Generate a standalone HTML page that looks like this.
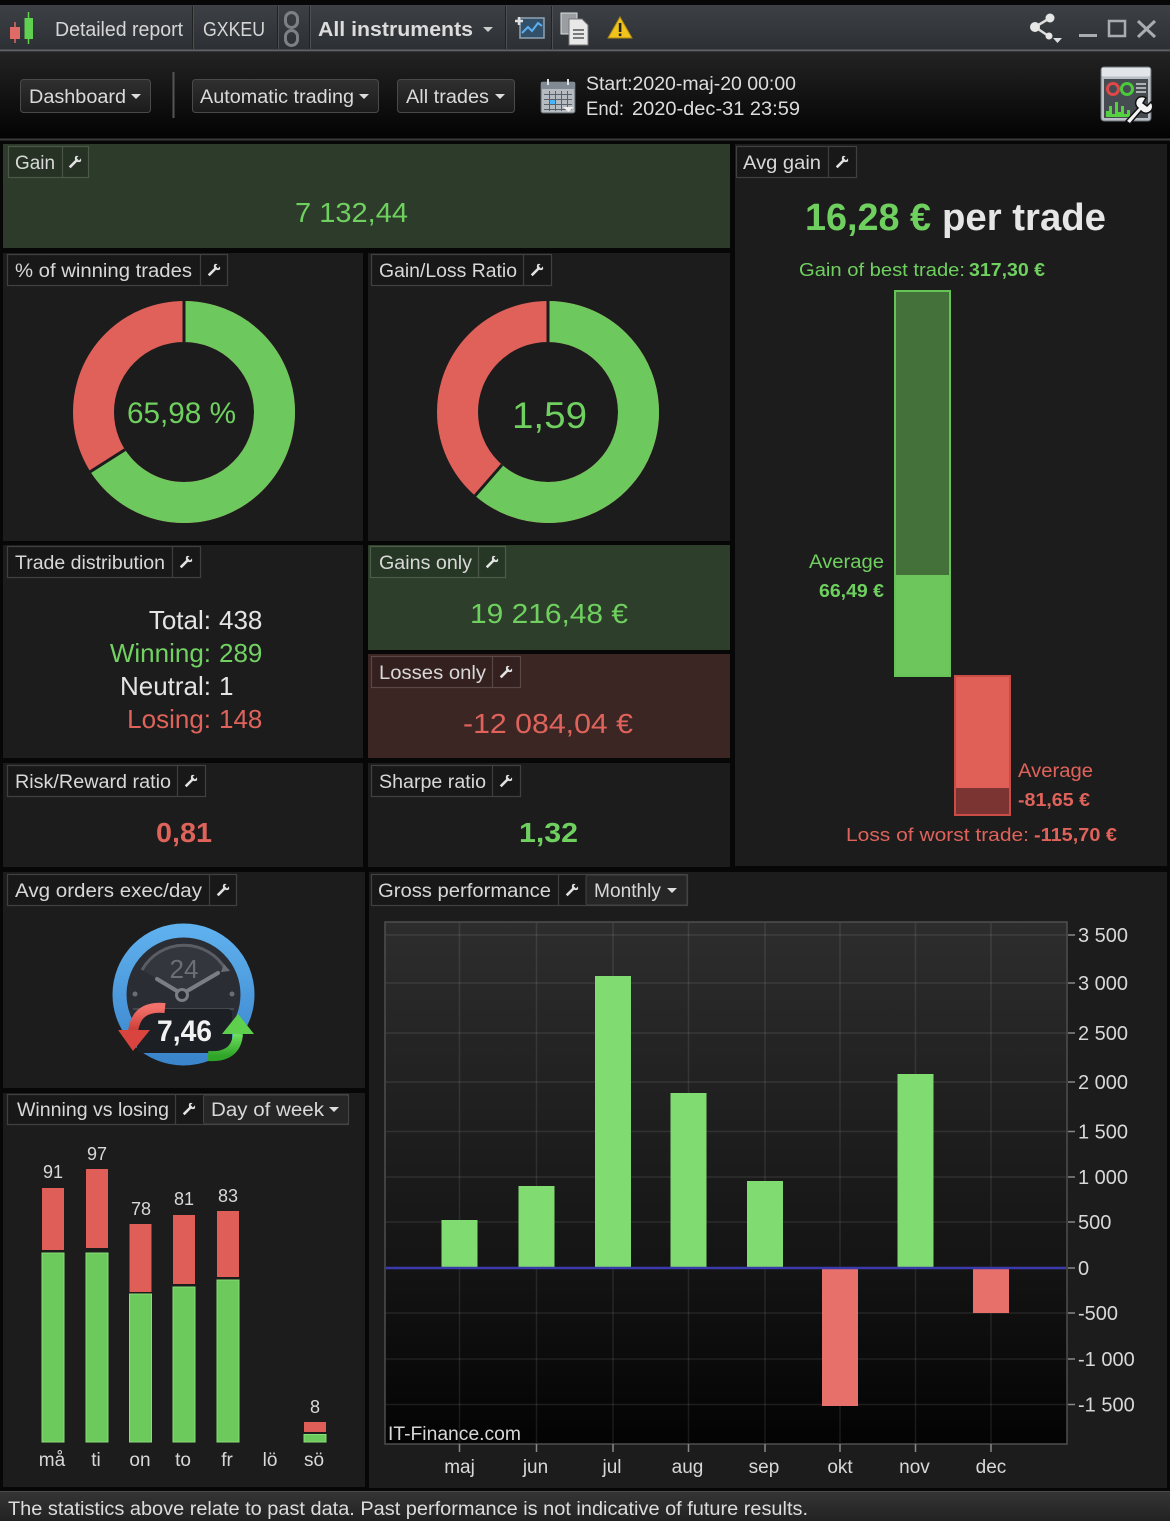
<!DOCTYPE html>
<html><head><meta charset="utf-8">
<style>
html,body{margin:0;padding:0;background:#000;}
svg{display:block;}
text{font-family:"Liberation Sans",Arial,sans-serif;}
</style></head><body>
<svg xmlns="http://www.w3.org/2000/svg" xmlns:xlink="http://www.w3.org/1999/xlink" width="1170" height="1521" viewBox="0 0 1170 1521">
<defs>
<linearGradient id="gTitle" x1="0" y1="0" x2="0" y2="1"><stop offset="0" stop-color="#3d4146"/><stop offset="1" stop-color="#2c2f33"/></linearGradient>
<linearGradient id="gTool" x1="0" y1="0" x2="0" y2="1"><stop offset="0" stop-color="#232323"/><stop offset="1" stop-color="#030303"/></linearGradient>
<linearGradient id="gBtn" x1="0" y1="0" x2="0" y2="1"><stop offset="0" stop-color="#303030"/><stop offset="1" stop-color="#1b1b1b"/></linearGradient>
<linearGradient id="gPlot" x1="0" y1="0" x2="0" y2="1"><stop offset="0" stop-color="#2d2d2d"/><stop offset="0.66" stop-color="#141414"/><stop offset="1" stop-color="#030303"/></linearGradient>
<linearGradient id="gFoot" x1="0" y1="0" x2="0" y2="1"><stop offset="0" stop-color="#353535"/><stop offset="1" stop-color="#222"/></linearGradient>
<linearGradient id="gRing" x1="0" y1="0" x2="0" y2="1"><stop offset="0" stop-color="#5fb0ee"/><stop offset="1" stop-color="#3a85cc"/></linearGradient>
<linearGradient id="gRed" x1="0" y1="0" x2="0" y2="1"><stop offset="0" stop-color="#f2716a"/><stop offset="1" stop-color="#c93a34"/></linearGradient>
<linearGradient id="gGreen" x1="0" y1="1" x2="0" y2="0"><stop offset="0" stop-color="#2fa428"/><stop offset="1" stop-color="#6fe05e"/></linearGradient>
<symbol id="wr" viewBox="-8 -8 16 16" width="16" height="16">
<path transform="rotate(45)" d="M-1.3 7.5 L-1.3 -1.6 A3.7 3.7 0 0 1 -3.7 -5 L-1.7 -6.8 L-1.7 -3.9 L1.7 -3.9 L1.7 -6.8 L3.7 -5 A3.7 3.7 0 0 1 1.3 -1.6 L1.3 7.5 Z" fill="#e2e2e2"/>
</symbol>
</defs>

<!-- background -->
<rect x="0" y="0" width="1170" height="1521" fill="#070707"/>

<!-- ===== Title bar ===== -->
<rect x="0" y="5" width="1170" height="45" fill="url(#gTitle)"/>
<line x1="0" y1="50.5" x2="1170" y2="50.5" stroke="#5f6368" stroke-width="2"/>
<!-- candle icon -->
<line x1="15" y1="22" x2="15" y2="43" stroke="#e06a66" stroke-width="1.5"/>
<rect x="10" y="27" width="10" height="12" fill="#e06a66"/>
<line x1="28.5" y1="12" x2="28.5" y2="44" stroke="#5fd050" stroke-width="1.5"/>
<rect x="24.5" y="18" width="8.5" height="21" fill="#5fd050"/>
<text x="55" y="36" font-size="20" fill="#d6d6d6" textLength="128" lengthAdjust="spacingAndGlyphs">Detailed report</text>
<g stroke-width="1">
<line x1="192.5" y1="6" x2="192.5" y2="49" stroke="#222"/><line x1="193.5" y1="6" x2="193.5" y2="49" stroke="#4c5055"/>
<line x1="277.5" y1="6" x2="277.5" y2="49" stroke="#222"/><line x1="278.5" y1="6" x2="278.5" y2="49" stroke="#4c5055"/>
<line x1="309.5" y1="6" x2="309.5" y2="49" stroke="#222"/><line x1="310.5" y1="6" x2="310.5" y2="49" stroke="#4c5055"/>
<line x1="505.5" y1="6" x2="505.5" y2="49" stroke="#222"/><line x1="506.5" y1="6" x2="506.5" y2="49" stroke="#4c5055"/>
<line x1="551.5" y1="6" x2="551.5" y2="49" stroke="#222"/><line x1="552.5" y1="6" x2="552.5" y2="49" stroke="#4c5055"/>
</g>
<text x="203" y="36" font-size="20" fill="#d6d6d6" textLength="62" lengthAdjust="spacingAndGlyphs">GXKEU</text>
<!-- chain -->
<rect x="285.5" y="12.5" width="12" height="15" rx="6" fill="none" stroke="#7d8085" stroke-width="3"/>
<rect x="285.5" y="30.5" width="12" height="15" rx="6" fill="none" stroke="#7d8085" stroke-width="3"/>
<text x="318" y="36" font-size="20" font-weight="bold" fill="#dcdcdc" textLength="155" lengthAdjust="spacingAndGlyphs">All instruments</text>
<path d="M483 27 L493 27 L488 32 Z" fill="#ccc"/>
<!-- chart icon -->
<rect x="520" y="18" width="24" height="20" fill="#33506a" stroke="#8fa3b3" stroke-width="1.5"/>
<polyline points="522,33 528,27 532,31 538,23 542,26" fill="none" stroke="#5ab0f0" stroke-width="2"/>
<path d="M515 21 h8 M519 17 v8" stroke="#e0e0e0" stroke-width="2.5"/>
<!-- doc icon -->
<rect x="561" y="13" width="16" height="21" fill="#9a9ea3" stroke="#ddd" stroke-width="1"/>
<path d="M569 19 h13 l6 6 v20 h-19 Z" fill="#e8e8e8" stroke="#777" stroke-width="1"/>
<path d="M573 30 h11 M573 34 h11 M573 38 h11" stroke="#555" stroke-width="1.5"/>
<!-- warning -->
<path d="M620 17 L632 38 L608 38 Z" fill="#f0c41c" stroke="#b08a10" stroke-width="1"/>
<rect x="618.8" y="23" width="2.6" height="9" fill="#222"/><rect x="618.8" y="33.5" width="2.6" height="2.6" fill="#222"/>
<!-- share -->
<line x1="1035" y1="27" x2="1050" y2="18" stroke="#ddd" stroke-width="2.5"/>
<line x1="1035" y1="27" x2="1050" y2="37" stroke="#ddd" stroke-width="2.5"/>
<circle cx="1035" cy="27" r="5" fill="#e6e6e6"/>
<circle cx="1050" cy="18" r="4.5" fill="#e6e6e6"/>
<circle cx="1049" cy="36" r="3.5" fill="#e6e6e6"/>
<path d="M1053 38 h9 l-4.5 5 Z" fill="#ddd"/>
<!-- window controls -->
<line x1="1079" y1="35.5" x2="1097" y2="35.5" stroke="#a9acb0" stroke-width="3"/>
<rect x="1109" y="21" width="16" height="15" fill="none" stroke="#a9acb0" stroke-width="2.5"/>
<path d="M1138 21 L1155 37 M1155 21 L1138 37" stroke="#a9acb0" stroke-width="3"/>

<!-- ===== Toolbar ===== -->
<rect x="0" y="52" width="1170" height="86" fill="url(#gTool)"/>
<line x1="0" y1="139.5" x2="1170" y2="139.5" stroke="#3a3a3a" stroke-width="2"/>
<rect x="20.5" y="79.5" width="130" height="33" rx="3" fill="url(#gBtn)" stroke="#4a4a4a"/>
<text x="29" y="103" font-size="19" fill="#dadada" textLength="97" lengthAdjust="spacingAndGlyphs">Dashboard</text>
<path d="M131 94 L141 94 L136 99 Z" fill="#ddd"/>
<line x1="173.5" y1="72" x2="173.5" y2="118" stroke="#555" stroke-width="2"/>
<rect x="192.5" y="79.5" width="186" height="33" rx="3" fill="url(#gBtn)" stroke="#4a4a4a"/>
<text x="200" y="103" font-size="19" fill="#dadada" textLength="154" lengthAdjust="spacingAndGlyphs">Automatic trading</text>
<path d="M359 94 L369 94 L364 99 Z" fill="#ddd"/>
<rect x="397.5" y="79.5" width="117" height="33" rx="3" fill="url(#gBtn)" stroke="#4a4a4a"/>
<text x="406" y="103" font-size="19" fill="#dadada" textLength="83" lengthAdjust="spacingAndGlyphs">All trades</text>
<path d="M495 94 L505 94 L500 99 Z" fill="#ddd"/>
<!-- calendar -->
<rect x="541" y="82" width="34" height="31" rx="2" fill="#b5bbc1" stroke="#5a6066"/>
<rect x="541" y="82" width="34" height="7" fill="#7f8a94"/>
<path d="M548 79 v6 M568 79 v6" stroke="#ddd" stroke-width="2"/>
<g stroke="#59616a" stroke-width="1"><path d="M544 94.5 h28 M544 99.5 h28 M544 104.5 h28 M544 109.5 h28 M549.5 91 v20 M555.5 91 v20 M561.5 91 v20 M567.5 91 v20"/></g>
<rect x="550" y="100" width="5" height="4" fill="#47b6ff"/>
<path d="M563 107 h11 l-5.5 5 Z" fill="#eee"/>
<text x="586" y="90" font-size="19" fill="#dcdcdc" textLength="210" lengthAdjust="spacingAndGlyphs">Start:2020-maj-20 00:00</text>
<text x="586" y="115" font-size="19" fill="#dcdcdc" textLength="38" lengthAdjust="spacingAndGlyphs">End:</text>
<text x="632" y="115" font-size="19" fill="#dcdcdc" textLength="168" lengthAdjust="spacingAndGlyphs">2020-dec-31 23:59</text>
<!-- dashboard settings icon -->
<rect x="1101" y="67" width="50" height="54" rx="3" fill="#b9bfc4" stroke="#6a7075"/>
<rect x="1101.5" y="67.5" width="49" height="9" rx="2" fill="#e2e6e9"/>
<rect x="1104" y="79" width="44" height="39" fill="#454b50"/>
<circle cx="1113" cy="89" r="5.5" fill="none" stroke="#e04848" stroke-width="3"/>
<circle cx="1127" cy="89" r="5.5" fill="none" stroke="#4cc83c" stroke-width="3"/>
<path d="M1136 84 h10 M1136 88 h10 M1136 92 h10" stroke="#cfd3d6" stroke-width="1.5"/>
<path d="M1106 117 v-6 h3 v-5 h3 v8 h3 v-12 h3 v10 h3 v-6 h3 v8 h3 v-4 h3 v7 Z" fill="#55d040"/>
<path d="M1126 121 L1138 108 A6 6 0 0 1 1146 98 L1143 103 L1147 106 L1151 102 A6 6 0 0 1 1141 111 L1130 124 Z" fill="#f4f4f4" stroke="#111" stroke-width="1.5"/>

<!-- ===== Panels ===== -->
<rect x="3" y="144" width="727" height="104" fill="#2c3b2a"/>
<rect x="735" y="144" width="432" height="722" fill="#1c1c1c"/>
<rect x="3" y="253" width="360" height="288" fill="#1c1c1c"/>
<rect x="368" y="253" width="362" height="288" fill="#1c1c1c"/>
<rect x="3" y="545" width="360" height="213" fill="#1c1c1c"/>
<rect x="368" y="545" width="362" height="105" fill="#2d3f2b"/>
<rect x="368" y="654" width="362" height="104" fill="#3c2624"/>
<rect x="3" y="763" width="360" height="104" fill="#1c1c1c"/>
<rect x="368" y="763" width="362" height="104" fill="#1c1c1c"/>
<rect x="3" y="872" width="362" height="216" fill="#1c1c1c"/>
<rect x="3" y="1093" width="362" height="394" fill="#1c1c1c"/>
<rect x="369" y="872" width="798" height="616" fill="#1c1c1c"/>

<!-- ===== Tags ===== -->
<g fill="rgba(0,0,0,0.12)" stroke="rgba(255,255,255,0.17)" stroke-width="1.2">
<rect x="8.5" y="146.5" width="80" height="31"/><line x1="62.5" y1="147" x2="62.5" y2="177"/>
<rect x="736.5" y="146.5" width="120" height="31"/><line x1="828.5" y1="147" x2="828.5" y2="177"/>
<rect x="7.5" y="254.5" width="220" height="31"/><line x1="200.5" y1="255" x2="200.5" y2="285"/>
<rect x="371.5" y="254.5" width="180" height="31"/><line x1="523.5" y1="255" x2="523.5" y2="285"/>
<rect x="7.5" y="546.5" width="193" height="31"/><line x1="172.5" y1="547" x2="172.5" y2="577"/>
<rect x="370.5" y="546.5" width="135" height="31"/><line x1="478.5" y1="547" x2="478.5" y2="577"/>
<rect x="371.5" y="656.5" width="149" height="31"/><line x1="492.5" y1="657" x2="492.5" y2="687"/>
<rect x="7.5" y="765.5" width="198" height="31"/><line x1="177.5" y1="766" x2="177.5" y2="796"/>
<rect x="371.5" y="765.5" width="149" height="31"/><line x1="492.5" y1="766" x2="492.5" y2="796"/>
<rect x="7.5" y="874.5" width="229" height="31"/><line x1="209.5" y1="875" x2="209.5" y2="905"/>
<rect x="7.5" y="1094.5" width="341" height="30"/><line x1="175.5" y1="1095" x2="175.5" y2="1124"/>
<rect x="371.5" y="874.5" width="316" height="31"/><line x1="558.5" y1="875" x2="558.5" y2="905"/>
</g>
<rect x="203.5" y="1095" width="145" height="29" rx="2" fill="#262626" stroke="#444"/>
<rect x="586" y="875" width="101" height="30" rx="2" fill="#262626" stroke="#444"/>
<g font-size="19" fill="#d8d8d8">
<text x="15" y="169" textLength="40" lengthAdjust="spacingAndGlyphs">Gain</text>
<text x="743" y="169" textLength="78" lengthAdjust="spacingAndGlyphs">Avg gain</text>
<text x="15" y="277" textLength="177" lengthAdjust="spacingAndGlyphs">% of winning trades</text>
<text x="379" y="277" textLength="138" lengthAdjust="spacingAndGlyphs">Gain/Loss Ratio</text>
<text x="15" y="569" textLength="150" lengthAdjust="spacingAndGlyphs">Trade distribution</text>
<text x="379" y="569" textLength="93" lengthAdjust="spacingAndGlyphs">Gains only</text>
<text x="379" y="679" textLength="107" lengthAdjust="spacingAndGlyphs">Losses only</text>
<text x="15" y="788" textLength="156" lengthAdjust="spacingAndGlyphs">Risk/Reward ratio</text>
<text x="379" y="788" textLength="107" lengthAdjust="spacingAndGlyphs">Sharpe ratio</text>
<text x="15" y="897" textLength="187" lengthAdjust="spacingAndGlyphs">Avg orders exec/day</text>
<text x="17" y="1116" textLength="152" lengthAdjust="spacingAndGlyphs">Winning vs losing</text>
<text x="211" y="1116" textLength="113" lengthAdjust="spacingAndGlyphs">Day of week</text>
<text x="378" y="897" textLength="173" lengthAdjust="spacingAndGlyphs">Gross performance</text>
<text x="594" y="897" textLength="67" lengthAdjust="spacingAndGlyphs">Monthly</text>
</g>
<path d="M329 1107 L339 1107 L334 1112 Z" fill="#ddd"/>
<path d="M667 888 L677 888 L672 893 Z" fill="#ddd"/>
<use xlink:href="#wr" x="67" y="154"/>
<use xlink:href="#wr" x="834" y="154"/>
<use xlink:href="#wr" x="206" y="262"/>
<use xlink:href="#wr" x="529" y="262"/>
<use xlink:href="#wr" x="178" y="554"/>
<use xlink:href="#wr" x="484" y="554"/>
<use xlink:href="#wr" x="498" y="664"/>
<use xlink:href="#wr" x="183" y="773"/>
<use xlink:href="#wr" x="498" y="773"/>
<use xlink:href="#wr" x="215" y="882"/>
<use xlink:href="#wr" x="181" y="1101"/>
<use xlink:href="#wr" x="564" y="882"/>

<!-- ===== Gain value ===== -->
<text x="295" y="222" font-size="28" fill="#6fd05f" textLength="113" lengthAdjust="spacingAndGlyphs">7 132,44</text>

<!-- ===== Donuts ===== -->
<circle cx="184" cy="412" r="90.5" fill="none" stroke="#e0605a" stroke-width="41"/>
<circle cx="184" cy="412" r="90.5" fill="none" stroke="#6dc85d" stroke-width="41" stroke-dasharray="375.2 1000" transform="rotate(-90 184 412)"/>
<line x1="184" y1="342" x2="184" y2="300" stroke="#1c1c1c" stroke-width="3"/>
<line x1="125" y1="449.6" x2="90" y2="471.9" stroke="#1c1c1c" stroke-width="3"/>
<text x="127" y="423" font-size="30" fill="#6fd05f" textLength="109" lengthAdjust="spacingAndGlyphs">65,98 %</text>

<circle cx="548" cy="412" r="90.5" fill="none" stroke="#e0605a" stroke-width="41"/>
<circle cx="548" cy="412" r="90.5" fill="none" stroke="#6dc85d" stroke-width="41" stroke-dasharray="349.1 1000" transform="rotate(-90 548 412)"/>
<line x1="548" y1="342" x2="548" y2="300" stroke="#1c1c1c" stroke-width="3"/>
<line x1="502" y1="464.8" x2="475" y2="495.8" stroke="#1c1c1c" stroke-width="3"/>
<text x="512" y="428" font-size="37" fill="#6fd05f" textLength="75" lengthAdjust="spacingAndGlyphs">1,59</text>

<!-- ===== Trade distribution ===== -->
<g font-size="26">
<text x="211" y="629" text-anchor="end" fill="#e4e4e4">Total:</text><text x="219" y="629" fill="#e4e4e4">438</text>
<text x="211" y="662" text-anchor="end" fill="#72d162">Winning:</text><text x="219" y="662" fill="#72d162">289</text>
<text x="211" y="695" text-anchor="end" fill="#e4e4e4">Neutral:</text><text x="219" y="695" fill="#e4e4e4">1</text>
<text x="211" y="728" text-anchor="end" fill="#e0635b">Losing:</text><text x="219" y="728" fill="#e0635b">148</text>
</g>

<!-- Gains / losses -->
<text x="470" y="623" font-size="28" fill="#6fd05f" textLength="158" lengthAdjust="spacingAndGlyphs">19 216,48 €</text>
<text x="463" y="733" font-size="28" fill="#e0635b" textLength="170" lengthAdjust="spacingAndGlyphs">-12 084,04 €</text>

<!-- Risk / Sharpe -->
<text x="156" y="842" font-size="28" font-weight="bold" fill="#e0635b" textLength="56" lengthAdjust="spacingAndGlyphs">0,81</text>
<text x="519" y="842" font-size="28" font-weight="bold" fill="#6fd05f" textLength="59" lengthAdjust="spacingAndGlyphs">1,32</text>

<!-- ===== Avg gain ===== -->
<text x="805" y="230" font-size="38" font-weight="bold" fill="#6fd05f" textLength="126" lengthAdjust="spacingAndGlyphs">16,28 €</text>
<text x="942" y="230" font-size="38" font-weight="bold" fill="#e6e6e6" textLength="164" lengthAdjust="spacingAndGlyphs">per trade</text>
<text x="799" y="276" font-size="18" fill="#6fd05f" textLength="166" lengthAdjust="spacingAndGlyphs">Gain of best trade:</text>
<text x="969" y="276" font-size="18" font-weight="bold" fill="#6fd05f" textLength="76" lengthAdjust="spacingAndGlyphs">317,30 €</text>
<rect x="895" y="291" width="55" height="385" fill="#44703a" stroke="#66c457" stroke-width="2"/>
<rect x="896" y="575" width="53" height="100" fill="#6cc65c"/>
<rect x="955" y="676" width="55" height="139" fill="#e05f57" stroke="#c94c46" stroke-width="2"/>
<rect x="956" y="788" width="53" height="26" fill="#7b3432"/>
<text x="884" y="568" font-size="19" text-anchor="end" fill="#6fd05f" textLength="75" lengthAdjust="spacingAndGlyphs">Average</text>
<text x="884" y="597" font-size="18" font-weight="bold" text-anchor="end" fill="#6fd05f" textLength="65" lengthAdjust="spacingAndGlyphs">66,49 €</text>
<text x="1018" y="777" font-size="19" fill="#e0635b" textLength="75" lengthAdjust="spacingAndGlyphs">Average</text>
<text x="1018" y="806" font-size="18" font-weight="bold" fill="#e0635b" textLength="72" lengthAdjust="spacingAndGlyphs">-81,65 €</text>
<text x="846" y="841" font-size="18" fill="#e0635b" textLength="183" lengthAdjust="spacingAndGlyphs">Loss of worst trade:</text>
<text x="1034" y="841" font-size="18" font-weight="bold" fill="#e0635b" textLength="83" lengthAdjust="spacingAndGlyphs">-115,70 €</text>

<!-- ===== Gauge ===== -->
<circle cx="183.5" cy="994.5" r="64" fill="#2a2e34" stroke="url(#gRing)" stroke-width="14"/>
<path d="M142 970 A48 48 0 0 1 226 970 L183 994 Z" fill="#33373d"/>
<path d="M142 970 A48 48 0 0 1 226 970" fill="none" stroke="#5a5e64" stroke-width="3"/>
<path d="M224 964 L230 971 L221 972 Z" fill="#6a6e74"/>
<text x="184" y="978" font-size="26" text-anchor="middle" fill="#6c7076">24</text>
<line x1="182" y1="994" x2="157" y2="979" stroke="#7a7e84" stroke-width="4" stroke-linecap="round"/>
<line x1="182" y1="994" x2="218" y2="973" stroke="#7a7e84" stroke-width="4" stroke-linecap="round"/>
<circle cx="182" cy="995" r="5.5" fill="#2a2e34" stroke="#7a7e84" stroke-width="3"/>
<circle cx="135" cy="994" r="2.5" fill="#6a6e74"/>
<circle cx="232" cy="994" r="2.5" fill="#6a6e74"/>
<line x1="133" y1="1009" x2="234" y2="1009" stroke="#4e5258" stroke-width="1.5"/>
<rect x="137" y="1009" width="95" height="44" rx="4" fill="#1c1f23"/>
<path d="M165 1008 Q136 1005 133 1032" fill="none" stroke="url(#gRed)" stroke-width="10"/>
<path d="M118 1030 L150 1030 L133 1051 Z" fill="#d9443e"/>
<path d="M208 1056 Q236 1058 238 1034" fill="none" stroke="url(#gGreen)" stroke-width="10"/>
<path d="M222 1034 L254 1034 L238 1014 Z" fill="#5fd04e"/>
<text x="157" y="1041" font-size="30" font-weight="bold" fill="#f2f2f2" textLength="55" lengthAdjust="spacingAndGlyphs">7,46</text>

<!-- ===== Winning vs losing ===== -->
<g stroke-width="1">
<rect x="42" y="1188" width="22" height="62" fill="#e05e58"/>
<rect x="42" y="1253" width="22" height="189" fill="#6cc95c" stroke="#88de78"/>
<rect x="86" y="1169" width="22" height="79" fill="#e05e58"/>
<rect x="86" y="1253" width="22" height="189" fill="#6cc95c" stroke="#88de78"/>
<rect x="129.5" y="1224" width="22" height="68" fill="#e05e58"/>
<rect x="129.5" y="1294" width="22" height="148" fill="#6cc95c" stroke="#88de78"/>
<rect x="173" y="1215" width="22" height="69" fill="#e05e58"/>
<rect x="173" y="1287" width="22" height="155" fill="#6cc95c" stroke="#88de78"/>
<rect x="217" y="1211" width="22" height="66" fill="#e05e58"/>
<rect x="217" y="1280" width="22" height="162" fill="#6cc95c" stroke="#88de78"/>
<rect x="304" y="1422" width="22" height="10" fill="#e05e58"/>
<rect x="304" y="1434.5" width="22" height="7.5" fill="#6cc95c" stroke="#88de78"/>
</g>
<g font-size="18" fill="#d8d8d8" text-anchor="middle">
<text x="53" y="1178">91</text>
<text x="97" y="1160">97</text>
<text x="141" y="1215">78</text>
<text x="184" y="1205">81</text>
<text x="228" y="1202">83</text>
<text x="315" y="1413">8</text>
</g>
<g font-size="19" fill="#d8d8d8" text-anchor="middle">
<text x="52" y="1466">må</text>
<text x="96" y="1466">ti</text>
<text x="140" y="1466">on</text>
<text x="183" y="1466">to</text>
<text x="227" y="1466">fr</text>
<text x="270" y="1466">lö</text>
<text x="314" y="1466">sö</text>
</g>

<!-- ===== Gross performance ===== -->
<rect x="385" y="922" width="682" height="522" fill="url(#gPlot)" stroke="#4e4e4e" stroke-width="1.5"/>
<g stroke="rgba(255,255,255,0.09)" stroke-width="1.5">
<line x1="386" y1="935" x2="1066" y2="935"/>
<line x1="386" y1="983" x2="1066" y2="983"/>
<line x1="386" y1="1033" x2="1066" y2="1033"/>
<line x1="386" y1="1082" x2="1066" y2="1082"/>
<line x1="386" y1="1131.5" x2="1066" y2="1131.5"/>
<line x1="386" y1="1177" x2="1066" y2="1177"/>
<line x1="386" y1="1222" x2="1066" y2="1222"/>
<line x1="386" y1="1313" x2="1066" y2="1313"/>
<line x1="386" y1="1359" x2="1066" y2="1359"/>
<line x1="386" y1="1404.5" x2="1066" y2="1404.5"/>
<line x1="459.5" y1="923" x2="459.5" y2="1443"/>
<line x1="536.5" y1="923" x2="536.5" y2="1443"/>
<line x1="613" y1="923" x2="613" y2="1443"/>
<line x1="688.5" y1="923" x2="688.5" y2="1443"/>
<line x1="765" y1="923" x2="765" y2="1443"/>
<line x1="840" y1="923" x2="840" y2="1443"/>
<line x1="915.5" y1="923" x2="915.5" y2="1443"/>
<line x1="991" y1="923" x2="991" y2="1443"/>
</g>
<g fill="#80db70">
<rect x="441.5" y="1220" width="36" height="48"/>
<rect x="518.5" y="1186" width="36" height="82"/>
<rect x="595" y="976" width="36" height="292"/>
<rect x="670.5" y="1093" width="36" height="175"/>
<rect x="747" y="1181" width="36" height="87"/>
<rect x="897.5" y="1074" width="36" height="194"/>
</g>
<g fill="#e8706a">
<rect x="822" y="1268" width="36" height="138"/>
<rect x="973" y="1268" width="36" height="45"/>
</g>
<line x1="386" y1="1268" x2="1066" y2="1268" stroke="#3a3aaa" stroke-width="2.5"/>
<g stroke="#888" stroke-width="1.5">
<line x1="1068" y1="935" x2="1075" y2="935"/>
<line x1="1068" y1="983" x2="1075" y2="983"/>
<line x1="1068" y1="1033" x2="1075" y2="1033"/>
<line x1="1068" y1="1082" x2="1075" y2="1082"/>
<line x1="1068" y1="1131.5" x2="1075" y2="1131.5"/>
<line x1="1068" y1="1177" x2="1075" y2="1177"/>
<line x1="1068" y1="1222" x2="1075" y2="1222"/>
<line x1="1068" y1="1268" x2="1075" y2="1268"/>
<line x1="1068" y1="1313" x2="1075" y2="1313"/>
<line x1="1068" y1="1359" x2="1075" y2="1359"/>
<line x1="1068" y1="1404.5" x2="1075" y2="1404.5"/>
<line x1="459.5" y1="1444" x2="459.5" y2="1452"/>
<line x1="536.5" y1="1444" x2="536.5" y2="1452"/>
<line x1="613" y1="1444" x2="613" y2="1452"/>
<line x1="688.5" y1="1444" x2="688.5" y2="1452"/>
<line x1="765" y1="1444" x2="765" y2="1452"/>
<line x1="840" y1="1444" x2="840" y2="1452"/>
<line x1="915.5" y1="1444" x2="915.5" y2="1452"/>
<line x1="991" y1="1444" x2="991" y2="1452"/>
</g>
<g font-size="20" fill="#d8d8d8">
<text x="1078" y="942">3 500</text>
<text x="1078" y="990">3 000</text>
<text x="1078" y="1040">2 500</text>
<text x="1078" y="1089">2 000</text>
<text x="1078" y="1138.5">1 500</text>
<text x="1078" y="1184">1 000</text>
<text x="1078" y="1229">500</text>
<text x="1078" y="1275">0</text>
<text x="1078" y="1320">-500</text>
<text x="1078" y="1366">-1 000</text>
<text x="1078" y="1411.5">-1 500</text>
</g>
<g font-size="19" fill="#d8d8d8" text-anchor="middle">
<text x="459.5" y="1473">maj</text>
<text x="535.5" y="1473">jun</text>
<text x="612" y="1473">jul</text>
<text x="687.5" y="1473">aug</text>
<text x="764" y="1473">sep</text>
<text x="840" y="1473">okt</text>
<text x="914.5" y="1473">nov</text>
<text x="991" y="1473">dec</text>
</g>
<text x="388" y="1440" font-size="19" fill="#d8d8d8" textLength="133" lengthAdjust="spacingAndGlyphs">IT-Finance.com</text>

<!-- ===== Footer ===== -->
<rect x="0" y="1491" width="1170" height="30" fill="url(#gFoot)"/>
<line x1="0" y1="1491.5" x2="1170" y2="1491.5" stroke="#4a4a4a"/>
<text x="8" y="1515" font-size="19" fill="#dcdcdc" textLength="800" lengthAdjust="spacingAndGlyphs">The statistics above relate to past data. Past performance is not indicative of future results.</text>
</svg>
</body></html>
